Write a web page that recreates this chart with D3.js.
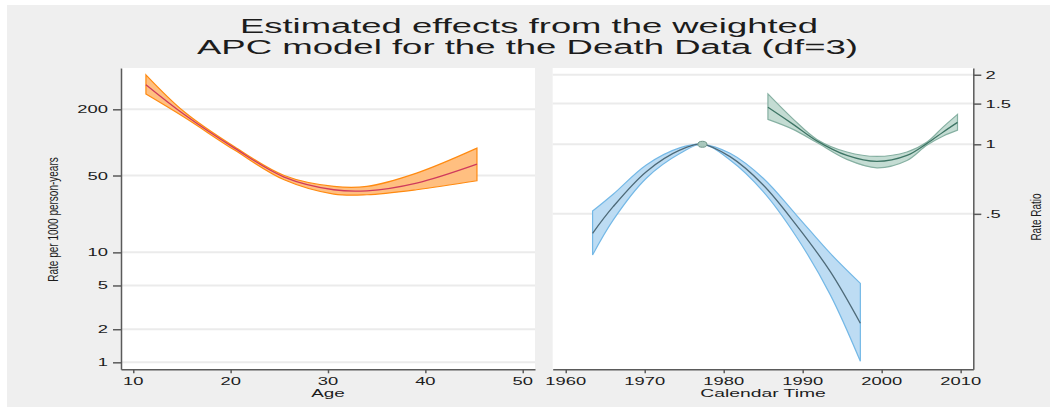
<!DOCTYPE html>
<html>
<head>
<meta charset="utf-8">
<script src="https://cdn.jsdelivr.net/npm/d3@7"></script>
<style>
	body {margin: 0; background: #fff;}
	text {font-family: "Liberation Sans", Arial, sans-serif; fill: #1c1c1c;}
</style>
</head>
<body>
<div class="wrapper"></div>
<script>

// ---------------- data ---------------- //

// age effect (rate per 1000 person-years)
var ageX   = [11.3, 15.2, 20.4, 25.5, 30.6, 34.0, 39.1, 45.3];
var ageFit = [334, 180, 88.7, 48.4, 37.1, 36.3, 42.7, 63.5];
var ageLo  = [275, 170, 85.1, 45.7, 33.9, 33.4, 37.1, 44.8];
var ageHi  = [412, 191, 91.2, 50.0, 39.8, 39.8, 52.6, 88.7];

// cohort effect (rate ratio, blue)
var cohX   = [1963.4, 1966.0, 1970.2, 1974.5, 1977.3, 1980.8, 1985.0, 1989.2, 1993.5, 1997.3];
var cohFit = [0.412, 0.537, 0.761, 0.945, 1, 0.884, 0.667, 0.447, 0.281, 0.168];
var cohLo  = [0.332, 0.470, 0.713, 0.914, 1, 0.855, 0.624, 0.398, 0.223, 0.115];
var cohHi  = [0.514, 0.608, 0.814, 0.967, 1, 0.914, 0.713, 0.494, 0.337, 0.250];

// period effect (rate ratio, green)
var perX   = [1985.6, 1988.8, 1991.8, 1995.6, 1999.4, 2003.2, 2005.7, 2007.8, 2009.6];
var perFit = [1.446, 1.220, 1.035, 0.895, 0.843, 0.895, 1.007, 1.131, 1.244];
var perLo  = [1.282, 1.160, 1.017, 0.860, 0.791, 0.851, 0.990, 1.087, 1.151];
var perHi  = [1.652, 1.285, 1.050, 0.926, 0.886, 0.926, 1.020, 1.190, 1.348];

// reference point of the cohort curve
var refYear = 1977.3, refRatio = 1;

// ticks
var ageTicks = [10, 20, 30, 40, 50];
var rateTicks = [1, 2, 5, 10, 50, 200];
var yearTicks = [1960, 1970, 1980, 1990, 2000, 2010];
var ratioTicks = [0.5, 1, 1.5, 2];
var ratioLabels = [".5", "1", "1.5", "2"];

var titleLines = ["Estimated effects from the weighted", "APC model for the the Death Data (df=3)"];

// ---------------- layout ---------------- //

var SX = 1.75,	// the picture is stretched sideways
	LEFT = {x0: 121, x1: 535, y0: 68, y1: 369.3},
	RIGHT = {x0: 552.7, x1: 973.3, y0: 68, y1: 369.3};

var svg = d3.select(".wrapper")
	.append("svg")
		.attr("width", 1050)
		.attr("height", 407);

svg.append("rect")
	.attr("x", 7).attr("y", 5)
	.attr("width", 1043).attr("height", 402)
	.attr("fill", "#efefef");

// title
svg.selectAll("text.title")
	.data(titleLines)
	.enter()
	.append("text")
		.attr("class", "title")
		.attr("x", function(d, i) {return i == 0 ? 240 : 197;})
		.attr("y", function(d, i) {return i == 0 ? 33.3 : 53.6;})
		.attr("textLength", function(d, i) {return i == 0 ? 578 : 661;})
		.attr("lengthAdjust", "spacingAndGlyphs")
		.style("font-size", "20px")
		.text(function(d) {return d;});

[LEFT, RIGHT].forEach(function(p) {
	svg.append("rect")
		.attr("x", p.x0).attr("y", p.y0)
		.attr("width", p.x1 - p.x0).attr("height", p.y1 - p.y0)
		.attr("fill", "#fff");
});

// scales
var xAge = d3.scaleLinear().domain([8.74, 51.26]).range([LEFT.x0, LEFT.x1]);
var yRate = d3.scaleLog().domain([0.864, 475]).range([LEFT.y1, LEFT.y0]);
var xYear = d3.scaleLinear().domain([1958.35, 2011.6]).range([RIGHT.x0, RIGHT.x1]);
var yRatio = d3.scaleLog().domain([0.1062, 2.139]).range([RIGHT.y1, RIGHT.y0]);

function stretched(g, x, y, str, anchor, size, sx) {
	g.append("text")
		.attr("transform", "translate(" + x + "," + y + ") scale(" + sx + ",1)")
		.attr("text-anchor", anchor)
		.style("font-size", size + "px")
		.text(str);
}

// gridlines
function grid(p, ticks, yScale) {
	svg.append("g").selectAll("line")
		.data(ticks)
		.enter()
		.append("line")
			.attr("x1", p.x0).attr("x2", p.x1)
			.attr("y1", function(d) {return yScale(d);})
			.attr("y2", function(d) {return yScale(d);})
			.attr("stroke", "#ebebeb")
			.attr("stroke-width", 2);
}
grid(LEFT, rateTicks, yRate);
grid(RIGHT, ratioTicks, yRatio);

// bands and fitted lines
function band(xs, lo, hi, fit, xScale, yScale, fill, edge, lineCol) {
	var idx = d3.range(xs.length);
	var area = d3.area()
		.x(function(i) {return xScale(xs[i]);})
		.y0(function(i) {return yScale(lo[i]);})
		.y1(function(i) {return yScale(hi[i]);})
		.curve(d3.curveCatmullRom.alpha(0.5));
	var line = d3.line()
		.x(function(i) {return xScale(xs[i]);})
		.y(function(i) {return yScale(fit[i]);})
		.curve(d3.curveCatmullRom.alpha(0.5));
	svg.append("path")
		.attr("d", area(idx))
		.attr("fill", fill)
		.attr("stroke", edge)
		.attr("stroke-width", 1.2);
	svg.append("path")
		.attr("d", line(idx))
		.attr("fill", "none")
		.attr("stroke", lineCol)
		.attr("stroke-width", 1.3);
}
band(ageX, ageLo, ageHi, ageFit, xAge, yRate, "#ffbf80", "#ff8a10", "#cf3a5c");
band(cohX, cohLo, cohHi, cohFit, xYear, yRatio, "#bddcf3", "#74b8e6", "#4e6a78");
band(perX, perLo, perHi, perFit, xYear, yRatio, "#c4dcd3", "#86b0a2", "#3e7565");

svg.append("ellipse")
	.attr("cx", xYear(refYear)).attr("cy", yRatio(refRatio))
	.attr("rx", 4.5).attr("ry", 3)
	.attr("fill", "#a9c7bc")
	.attr("stroke", "#6f978a")
	.attr("stroke-width", 1);

// axes
function styleAxis(g) {
	g.selectAll("path, line").attr("stroke", "#5a5a5a").attr("stroke-width", 1.5);
	g.selectAll("text").remove();
}

svg.append("g")
	.attr("transform", "translate(0," + LEFT.y1 + ")")
	.call(d3.axisBottom(xAge).tickValues(ageTicks).tickSize(4).tickSizeOuter(0))
	.call(styleAxis);
svg.append("g")
	.attr("transform", "translate(" + LEFT.x0 + ",0)")
	.call(d3.axisLeft(yRate).tickValues(rateTicks).tickSize(8).tickSizeOuter(0))
	.call(styleAxis);
svg.append("g")
	.attr("transform", "translate(0," + RIGHT.y1 + ")")
	.call(d3.axisBottom(xYear).tickValues(yearTicks).tickSize(4).tickSizeOuter(0))
	.call(styleAxis);
svg.append("g")
	.attr("transform", "translate(" + RIGHT.x1 + ",0)")
	.call(d3.axisRight(yRatio).tickValues(ratioTicks).tickSize(8).tickSizeOuter(0))
	.call(styleAxis);

// tick labels
var labels = svg.append("g");
ageTicks.forEach(function(d) {stretched(labels, xAge(d), 384.8, d, "middle", 10.5, SX);});
rateTicks.forEach(function(d) {stretched(labels, 108, yRate(d) + 4, d, "end", 10.5, SX);});
yearTicks.forEach(function(d) {stretched(labels, xYear(d), 384.8, d, "middle", 10.5, SX);});
ratioTicks.forEach(function(d, i) {stretched(labels, 985.5, yRatio(d) + 4, ratioLabels[i], "start", 10.5, SX);});

// axis titles
stretched(labels, (LEFT.x0 + LEFT.x1) / 2, 397, "Age", "middle", 10.5, 1.8);
stretched(labels, (RIGHT.x0 + RIGHT.x1) / 2, 397, "Calendar Time", "middle", 10.5, 1.84);

labels.append("text")
	.attr("transform", "translate(58,219.5) rotate(-90) scale(1,1.55)")
	.attr("text-anchor", "middle")
	.style("font-size", "10px")
	.text("Rate per 1000 person-years");

labels.append("text")
	.attr("transform", "translate(1041,217) rotate(-90) scale(1,1.55)")
	.attr("text-anchor", "middle")
	.style("font-size", "10px")
	.text("Rate Ratio");

</script>
</body>
</html>
